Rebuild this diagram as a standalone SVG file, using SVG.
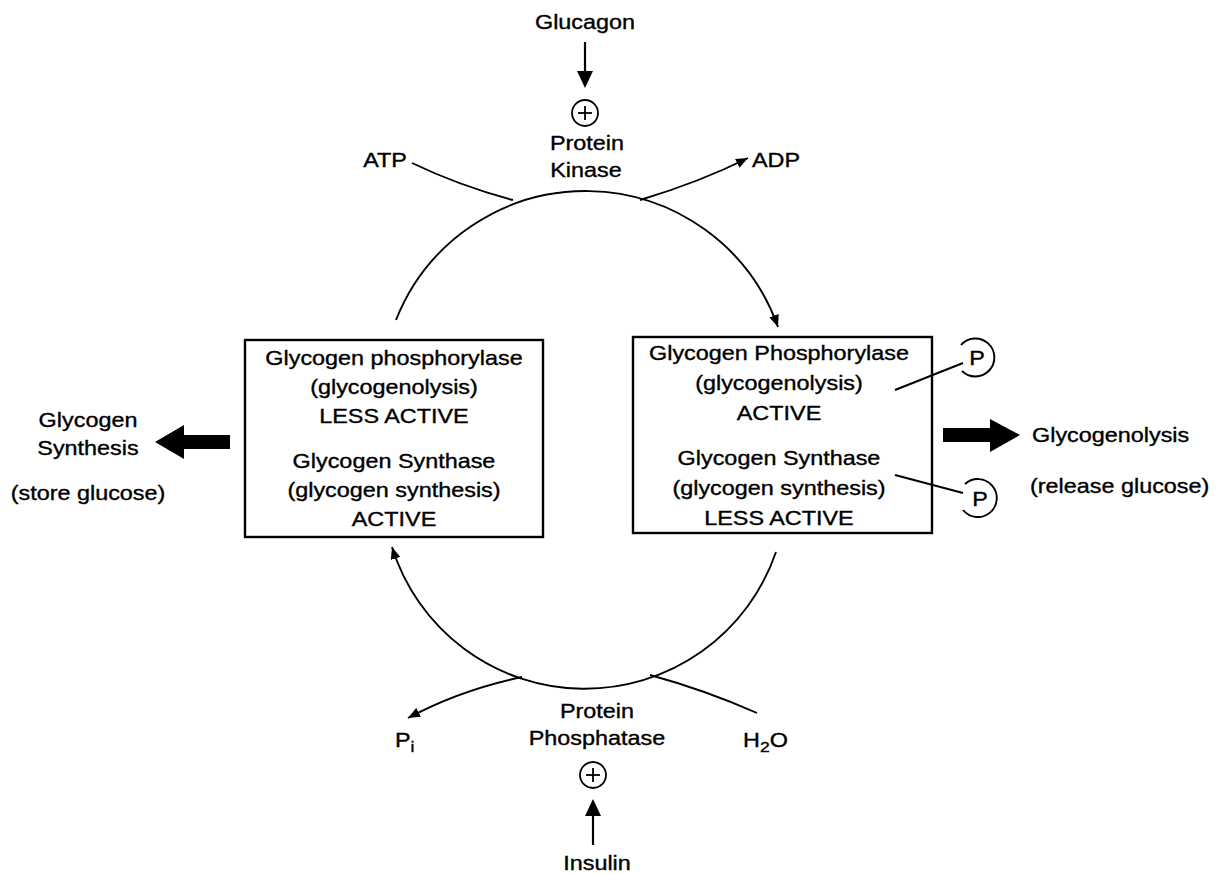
<svg xmlns="http://www.w3.org/2000/svg" width="1224" height="874" viewBox="0 0 1224 874">
<style>
.t{font-family:"Liberation Sans",Arial,Helvetica,sans-serif;font-size:20px;fill:#000;stroke:#000;stroke-width:0.35;text-anchor:middle}
.s{text-anchor:start}
.ln{fill:none;stroke:#000;stroke-width:1.9}
.box{fill:none;stroke:#000;stroke-width:2.4}
</style>
<defs>
<marker id="ah" viewBox="0 0 12 10" refX="12" refY="5" markerWidth="12" markerHeight="10" markerUnits="userSpaceOnUse" orient="auto">
<path d="M0,0 L12,5 L0,10 Z" fill="#000"/>
</marker>
</defs>
<rect width="1224" height="874" fill="#fff"/>

<g id="box-left">
<rect class="box" x="245" y="340" width="298" height="197"/>
<text class="t" transform="translate(394,365) scale(1.17,1)">Glycogen phosphorylase</text>
<text class="t" transform="translate(394,394) scale(1.17,1)">(glycogenolysis)</text>
<text class="t" transform="translate(394,423) scale(1.17,1)">LESS ACTIVE</text>
<text class="t" transform="translate(394,468) scale(1.17,1)">Glycogen Synthase</text>
<text class="t" transform="translate(394,497) scale(1.17,1)">(glycogen synthesis)</text>
<text class="t" transform="translate(394,526) scale(1.17,1)">ACTIVE</text>
</g>

<g id="box-right">
<rect class="box" x="633" y="337" width="299" height="196"/>
<text class="t" transform="translate(779,360) scale(1.17,1)">Glycogen Phosphorylase</text>
<text class="t" transform="translate(779,390) scale(1.17,1)">(glycogenolysis)</text>
<text class="t" transform="translate(779,420) scale(1.17,1)">ACTIVE</text>
<text class="t" transform="translate(779,465) scale(1.17,1)">Glycogen Synthase</text>
<text class="t" transform="translate(779,495) scale(1.17,1)">(glycogen synthesis)</text>
<text class="t" transform="translate(779,525) scale(1.17,1)">LESS ACTIVE</text>
</g>

<g id="connectors">
<path class="ln" d="M396,320 A204,204 0 0 1 778,327" marker-end="url(#ah)"/>
<path class="ln" d="M776,552 A202,202 0 0 1 392,547" marker-end="url(#ah)"/>
<path class="ln" d="M412,163 Q460,186 513,200"/>
<path class="ln" d="M640,200 Q700,182 748,158" marker-end="url(#ah)"/>
<path class="ln" d="M522,677 Q460,690 408,718" marker-end="url(#ah)"/>
<path class="ln" d="M650,675 Q705,690 757,713"/>
<line x1="585" y1="42" x2="585" y2="72" stroke="#000" stroke-width="2.2"/>
<path d="M577,71 L593,71 L585,88 Z" fill="#000"/>
<line x1="593" y1="845" x2="593" y2="815" stroke="#000" stroke-width="2.2"/>
<path d="M585,816 L601,816 L593,799 Z" fill="#000"/>
<path d="M155,442 L184,425 L184,435 L230,435 L230,449 L184,449 L184,459 Z" fill="#000"/>
<path d="M943,428 L990,428 L990,419 L1020,435 L990,452 L990,442 L943,442 Z" fill="#000"/>
<line class="ln" x1="895" y1="390" x2="963" y2="363"/>
<line class="ln" x1="895" y1="475" x2="963" y2="493"/>
</g>

<g id="glucagon"><text class="t" transform="translate(585,29) scale(1.17,1)">Glucagon</text></g>
<g id="plus-top"><circle cx="585" cy="113" r="13" fill="none" stroke="#000" stroke-width="1.8"/><line x1="578" y1="113" x2="592" y2="113" stroke="#000" stroke-width="1.8"/><line x1="585" y1="106" x2="585" y2="120" stroke="#000" stroke-width="1.8"/></g>
<g id="protein-kinase">
<text class="t" transform="translate(587,150) scale(1.17,1)">Protein</text>
<text class="t" transform="translate(586,177) scale(1.17,1)">Kinase</text>
</g>
<g id="atp"><text class="t" transform="translate(385,167) scale(1.17,1)">ATP</text></g>
<g id="adp"><text class="t" transform="translate(776,167) scale(1.17,1)">ADP</text></g>

<g id="p-upper">
<path class="ln" d="M961,345 A19,19 0 1 1 962,371"/>
<text class="t" transform="translate(977,365) scale(1.17,1)">P</text>
</g>
<g id="p-lower">
<path class="ln" d="M965,484 A19,19 0 1 1 963,510"/>
<text class="t" transform="translate(980,506) scale(1.17,1)">P</text>
</g>

<g id="glycogen-synthesis">
<text class="t" transform="translate(88,427) scale(1.17,1)">Glycogen</text>
<text class="t" transform="translate(88,455) scale(1.17,1)">Synthesis</text>
<text class="t" transform="translate(88,500) scale(1.17,1)">(store glucose)</text>
</g>
<g id="glycogenolysis">
<text class="t s" transform="translate(1032,442) scale(1.17,1)">Glycogenolysis</text>
<text class="t s" transform="translate(1030,493) scale(1.17,1)">(release glucose)</text>
</g>

<g id="protein-phosphatase">
<text class="t" transform="translate(597,718) scale(1.17,1)">Protein</text>
<text class="t" transform="translate(597,745) scale(1.17,1)">Phosphatase</text>
</g>
<g id="plus-bottom"><circle cx="593" cy="775" r="13" fill="none" stroke="#000" stroke-width="1.8"/><line x1="586" y1="775" x2="600" y2="775" stroke="#000" stroke-width="1.8"/><line x1="593" y1="768" x2="593" y2="782" stroke="#000" stroke-width="1.8"/></g>
<g id="insulin"><text class="t" transform="translate(597,870) scale(1.17,1)">Insulin</text></g>
<g id="pi"><text class="t s" transform="translate(395,747) scale(1.17,1)">P<tspan font-size="15" dy="5">i</tspan></text></g>
<g id="h2o"><text class="t s" transform="translate(743,747) scale(1.17,1)">H<tspan font-size="15" dy="5">2</tspan><tspan dy="-5">O</tspan></text></g>
</svg>
